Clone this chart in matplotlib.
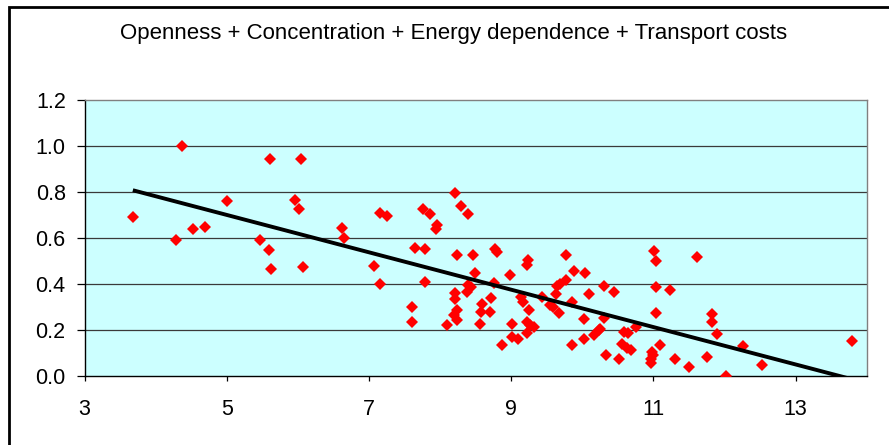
import numpy as np
import matplotlib
matplotlib.use("Agg")
import matplotlib.pyplot as plt
from matplotlib.patches import Rectangle
from matplotlib.ticker import FormatStrFormatter

title = "Openness + Concentration + Energy dependence + Transport costs"

x_vals = [3.68, 4.37, 4.29, 4.53, 4.69, 5.00, 5.47, 5.60, 5.61, 5.62,
          5.96, 6.01, 6.04, 6.07, 6.62, 6.65, 7.07, 7.15, 7.16, 7.26,
          7.60, 7.60, 7.65, 7.79, 7.76, 7.86, 7.79, 7.96, 7.94, 8.21,
          8.29, 8.40, 8.24, 8.47, 8.49, 8.40, 8.43, 8.38, 8.21, 8.21,
          8.24, 8.19, 8.24, 8.10, 8.59, 8.58, 8.56, 8.72, 8.70, 8.77,
          8.80, 8.76, 8.98, 9.23, 9.22, 9.77, 9.88, 10.04, 9.77, 9.69,
          9.64, 9.63, 10.09, 10.30, 10.44, 9.14, 9.17, 9.25, 9.43, 9.55,
          9.59, 9.67, 9.85, 10.02, 10.30, 9.01, 9.22, 9.27, 9.32, 9.22,
          9.01, 9.09, 8.87, 9.85, 10.02, 10.16, 10.23, 10.25, 10.33, 10.58,
          10.65, 10.75, 10.56, 10.63, 10.68, 10.51, 11.01, 11.04, 11.62, 11.04,
          11.23, 11.04, 11.10, 10.98, 11.00, 10.97, 10.96, 11.31, 11.50, 11.75,
          11.82, 11.83, 11.89, 12.26, 12.02, 12.53, 13.80]
y_vals = [0.69, 1.00, 0.59, 0.64, 0.65, 0.76, 0.59, 0.55, 0.945, 0.465,
          0.765, 0.725, 0.945, 0.473, 0.642, 0.601, 0.481, 0.403, 0.71, 0.696,
          0.299, 0.236, 0.558, 0.551, 0.725, 0.704, 0.41, 0.657, 0.638, 0.794,
          0.74, 0.704, 0.526, 0.526, 0.447, 0.396, 0.388, 0.367, 0.362, 0.337,
          0.287, 0.265, 0.243, 0.222, 0.313, 0.28, 0.226, 0.338, 0.28, 0.555,
          0.54, 0.406, 0.442, 0.504, 0.483, 0.526, 0.458, 0.449, 0.417, 0.403,
          0.391, 0.359, 0.359, 0.391, 0.367, 0.345, 0.323, 0.29, 0.345, 0.309,
          0.299, 0.275, 0.323, 0.251, 0.255, 0.229, 0.236, 0.222, 0.212, 0.186,
          0.171, 0.16, 0.135, 0.135, 0.16, 0.18, 0.20, 0.207, 0.091, 0.193,
          0.188, 0.214, 0.139, 0.125, 0.113, 0.077, 0.545, 0.501, 0.519, 0.388,
          0.374, 0.275, 0.135, 0.106, 0.091, 0.077, 0.058, 0.077, 0.04, 0.084,
          0.27, 0.236, 0.183, 0.13, 0.0, 0.048, 0.153]

x_ticks = [3, 5, 7, 9, 11, 13]
y_ticks = [0.0, 0.2, 0.4, 0.6, 0.8, 1.0, 1.2]

x = np.array(x_vals)
y = np.array(y_vals)
coef = np.polyfit(x, y, 1)
tx = np.array([x.min(), x.max()])
ty = np.polyval(coef, tx)

plt.rcParams['font.family'] = ['Liberation Sans', 'DejaVu Sans']

fig = plt.figure(figsize=(8.89, 4.45), dpi=100)
fig.patch.set_facecolor('white')

# outer chart frame (cropped at right/bottom)
frame = Rectangle((9 / 889, -0.1), 1.2, 1 - 7 / 445 + 0.1, transform=fig.transFigure,
                  fill=False, edgecolor='black', linewidth=2.0, zorder=0)
fig.patches.append(frame)

ax = fig.add_axes([84.5 / 889, 1 - 376.3 / 445, (866.7 - 84.5) / 889, (376.3 - 100) / 445])
ax.set_facecolor('#CCFFFF')
ax.set_xlim(3, 14)
ax.set_ylim(0, 1.2)
ax.set_xticks(x_ticks)
ax.set_yticks(y_ticks)
ax.yaxis.set_major_formatter(FormatStrFormatter('%.1f'))

for yy in y_ticks[1:-1]:
    ax.axhline(yy, color='#3a3a3a', linewidth=0.9, zorder=1)

for side in ['top', 'right']:
    ax.spines[side].set_color('#808080')
    ax.spines[side].set_linewidth(1.0)
for side in ['left', 'bottom']:
    ax.spines[side].set_color('black')
    ax.spines[side].set_linewidth(1.0)

ax.tick_params(axis='y', direction='out', length=5.5, width=0.9, pad=8, labelsize=15.5)
ax.tick_params(axis='x', direction='out', length=3.5, width=0.9, pad=12.5, labelsize=15.5)

ax.plot(x, y, linestyle='none', marker='D', markersize=6.0, color='#FF0000',
        markeredgewidth=0, zorder=3)
ax.plot(tx, ty, color='black', linewidth=2.8, zorder=4, solid_capstyle='butt')

fig.text(454 / 889, 1 - 34 / 445, title, ha='center', va='center', fontsize=16)

fig.savefig('out.png', dpi=100)
